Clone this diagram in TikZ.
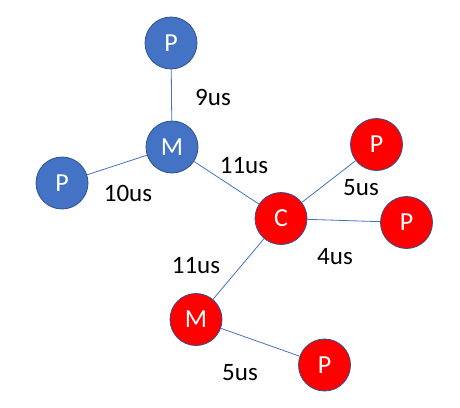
\documentclass[tikz,border=0pt]{standalone}
\usepackage{fontspec}
\setmainfont{Carlito}
\definecolor{offblue}{HTML}{4472C4}
\definecolor{edgeblue}{HTML}{2F528F}
\definecolor{offred}{HTML}{FF0000}
\begin{document}
\begin{tikzpicture}[x=1pt,y=-1pt,
  vert/.style={circle,draw=edgeblue,line width=0.8pt,minimum size=52pt,inner sep=0pt,text=white,font=\fontsize{26}{28}\selectfont},
  bluev/.style={vert,fill=offblue},
  redv/.style={vert,fill=offred},
  link/.style={draw=offblue,line width=0.8pt},
  lbl/.style={font=\fontsize{25}{28}\selectfont,text=black,inner sep=0pt}]
\useasboundingbox (0,0) rectangle (460,407);
\node[bluev] (pt) at (171,43) {P};
\node[bluev] (bm) at (172,147) {M};
\node[bluev] (pl) at (62,183) {P};
\node[redv] (pur) at (376.5,144.5) {P};
\node[redv] (c) at (281,218.5) {C};
\node[redv] (pr) at (406.5,222.5) {P};
\node[redv] (rm) at (196,319.5) {M};
\node[redv] (pb) at (324.5,365) {P};
\draw[link] (pt) -- (bm);
\draw[link] (pl) -- (bm);
\draw[link] (bm) -- (c);
\draw[link] (c) -- (pur);
\draw[link] (c) -- (pr);
\draw[link] (c) -- (rm);
\draw[link] (rm) -- (pb);
\node[lbl] (l1) at (213,97) {9us};
\node[lbl] (l2) at (128,193) {10us};
\node[lbl] (l3) at (244,166) {11us};
\node[lbl] (l4) at (361,188) {5us};
\node[lbl] (l5) at (335,257) {4us};
\node[lbl] (l6) at (196,266) {11us};
\node[lbl] (l7) at (240,373) {5us};
\end{tikzpicture}
\end{document}
